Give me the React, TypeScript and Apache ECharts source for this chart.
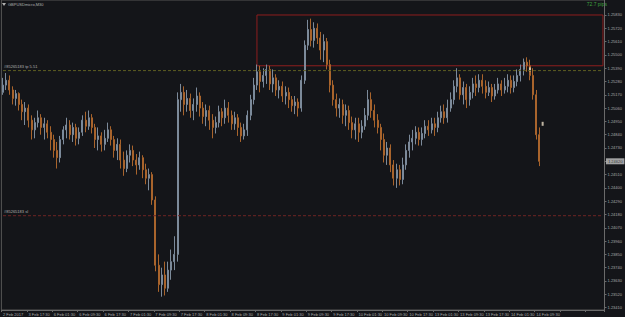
import React, { useEffect, useRef } from "react";
import * as echarts from "echarts";

const symbolTitle = "GBPUSDmicro,M30";
const pipsText = "72.7 pips";
const tpLabel = "#85265183 tp 5.51";
const slLabel = "#85265183 sl";

const xTickLabels = [
  "2 Feb 2017", "3 Feb 17:30", "6 Feb 01:30", "6 Feb 09:30", "6 Feb 17:30", "7 Feb 01:30",
  "7 Feb 09:30", "7 Feb 17:30", "8 Feb 01:30", "8 Feb 09:30", "8 Feb 17:30", "9 Feb 01:30",
  "9 Feb 09:30", "9 Feb 17:30", "10 Feb 01:30", "10 Feb 09:30", "10 Feb 17:30", "13 Feb 01:30",
  "13 Feb 09:30", "13 Feb 17:30", "14 Feb 01:30", "14 Feb 09:30",
];

const yTickValues = [
  1.2341, 1.2352, 1.2363, 1.2374, 1.2385, 1.2396, 1.2407, 1.2418, 1.2429, 1.244, 1.2451, 1.2462,
  1.2473, 1.2484, 1.2495, 1.2506, 1.2517, 1.2528, 1.2539, 1.255, 1.2561, 1.2572, 1.2583,
];

// [open, close, low, high]
const candles = [
  [1.2519, 1.2525, 1.2517, 1.2531], [1.2525, 1.2529, 1.2521, 1.2535], [1.2529, 1.2521, 1.2517, 1.2533],
  [1.2521, 1.2514, 1.2509, 1.2524], [1.2514, 1.2518, 1.2508, 1.2521], [1.2518, 1.2509, 1.2504, 1.2519],
  [1.2509, 1.2503, 1.2496, 1.2513], [1.2503, 1.2506, 1.2492, 1.2511], [1.2506, 1.2496, 1.249, 1.2509],
  [1.2496, 1.2488, 1.248, 1.25], [1.2488, 1.2494, 1.2481, 1.2498], [1.2494, 1.2498, 1.249, 1.2504],
  [1.2498, 1.249, 1.2484, 1.2501], [1.249, 1.2493, 1.248, 1.2498], [1.2493, 1.2486, 1.2481, 1.2496],
  [1.2486, 1.248, 1.2471, 1.2491], [1.248, 1.2471, 1.2465, 1.2484], [1.2471, 1.2465, 1.2456, 1.2478],
  [1.2465, 1.248, 1.2461, 1.2483], [1.248, 1.2488, 1.2476, 1.2491], [1.2488, 1.2492, 1.2481, 1.2498],
  [1.2492, 1.2484, 1.248, 1.2496], [1.2484, 1.249, 1.2478, 1.2494], [1.249, 1.2481, 1.2475, 1.2493],
  [1.2481, 1.2486, 1.2476, 1.249], [1.2486, 1.2496, 1.2483, 1.25], [1.2496, 1.2491, 1.2486, 1.2503],
  [1.2491, 1.2498, 1.2488, 1.2504], [1.2498, 1.249, 1.2485, 1.2501], [1.249, 1.248, 1.2473, 1.2493],
  [1.248, 1.2483, 1.2471, 1.249], [1.2483, 1.2476, 1.247, 1.2486], [1.2476, 1.2481, 1.2471, 1.2488],
  [1.2481, 1.2488, 1.2478, 1.2494], [1.2488, 1.248, 1.2475, 1.2491], [1.248, 1.2471, 1.2465, 1.2483],
  [1.2471, 1.2476, 1.2463, 1.2481], [1.2476, 1.2463, 1.2456, 1.248], [1.2463, 1.2456, 1.245, 1.247],
  [1.2456, 1.2467, 1.2453, 1.2471], [1.2467, 1.2471, 1.2461, 1.2476], [1.2471, 1.2463, 1.2458, 1.2475],
  [1.2463, 1.2459, 1.2451, 1.2468], [1.2459, 1.2465, 1.2455, 1.247], [1.2465, 1.2455, 1.2448, 1.2467],
  [1.2455, 1.2448, 1.2443, 1.246], [1.2448, 1.2451, 1.2438, 1.2456], [1.2451, 1.243, 1.2426, 1.2453],
  [1.243, 1.2376, 1.2371, 1.2433], [1.2376, 1.236, 1.2354, 1.2385], [1.236, 1.2368, 1.235, 1.2374],
  [1.2368, 1.2357, 1.2351, 1.2379], [1.2357, 1.2372, 1.2354, 1.2379], [1.2372, 1.2379, 1.2364, 1.2389],
  [1.2379, 1.2385, 1.2372, 1.24], [1.2385, 1.2513, 1.2379, 1.2519], [1.2513, 1.2519, 1.2503, 1.2526],
  [1.2519, 1.2509, 1.25, 1.2524], [1.2509, 1.2514, 1.2503, 1.2521], [1.2514, 1.2504, 1.2498, 1.2518],
  [1.2504, 1.2509, 1.2496, 1.2514], [1.2509, 1.2516, 1.2503, 1.2523], [1.2516, 1.2506, 1.2499, 1.2519],
  [1.2506, 1.2499, 1.2493, 1.2511], [1.2499, 1.2504, 1.2491, 1.2509], [1.2504, 1.2496, 1.2488, 1.2508],
  [1.2496, 1.249, 1.2481, 1.2501], [1.249, 1.2494, 1.2485, 1.2499], [1.2494, 1.2503, 1.249, 1.2508],
  [1.2503, 1.2498, 1.2491, 1.2506], [1.2498, 1.2506, 1.2493, 1.2513], [1.2506, 1.25, 1.2494, 1.2511],
  [1.25, 1.2493, 1.2488, 1.2504], [1.2493, 1.2498, 1.2488, 1.2503], [1.2498, 1.249, 1.2483, 1.2501],
  [1.249, 1.2483, 1.2478, 1.2494], [1.2483, 1.2488, 1.248, 1.2493], [1.2488, 1.25, 1.2483, 1.2504],
  [1.25, 1.2513, 1.2496, 1.2517], [1.2513, 1.2525, 1.2509, 1.2531], [1.2525, 1.2536, 1.2521, 1.2542],
  [1.2536, 1.2528, 1.2519, 1.2541], [1.2528, 1.2533, 1.2523, 1.2539], [1.2533, 1.2538, 1.2526, 1.2542],
  [1.2538, 1.2526, 1.2521, 1.2541], [1.2526, 1.2531, 1.2519, 1.2538], [1.2531, 1.2521, 1.2516, 1.2534],
  [1.2521, 1.2524, 1.2514, 1.2529], [1.2524, 1.2516, 1.2511, 1.2528], [1.2516, 1.2519, 1.2509, 1.2524],
  [1.2519, 1.2513, 1.2506, 1.2523], [1.2513, 1.2508, 1.2503, 1.2516], [1.2508, 1.2511, 1.2501, 1.2516],
  [1.2511, 1.2506, 1.2499, 1.2514], [1.2506, 1.2529, 1.2503, 1.2533], [1.2529, 1.2558, 1.2526, 1.2562],
  [1.2558, 1.2571, 1.2554, 1.2579], [1.2571, 1.2562, 1.2557, 1.258], [1.2562, 1.2572, 1.2556, 1.2577],
  [1.2572, 1.2564, 1.2559, 1.2576], [1.2564, 1.2554, 1.2546, 1.2569], [1.2554, 1.2561, 1.2544, 1.2567],
  [1.2561, 1.2542, 1.2538, 1.2564], [1.2542, 1.2525, 1.2519, 1.2546], [1.2525, 1.2513, 1.2508, 1.2529],
  [1.2513, 1.2506, 1.2499, 1.2518], [1.2506, 1.2509, 1.2498, 1.2514], [1.2509, 1.25, 1.2493, 1.2513],
  [1.25, 1.2504, 1.2491, 1.2509], [1.2504, 1.2494, 1.2488, 1.2508], [1.2494, 1.2488, 1.2481, 1.2499],
  [1.2488, 1.2493, 1.248, 1.2498], [1.2493, 1.2486, 1.2478, 1.2498], [1.2486, 1.2491, 1.2481, 1.2496],
  [1.2491, 1.25, 1.2488, 1.2506], [1.25, 1.2513, 1.2496, 1.2521], [1.2513, 1.2504, 1.2498, 1.2519],
  [1.2504, 1.2496, 1.249, 1.2509], [1.2496, 1.249, 1.2485, 1.2501], [1.249, 1.248, 1.2471, 1.2493],
  [1.248, 1.2467, 1.2461, 1.2485], [1.2467, 1.2473, 1.2459, 1.2478], [1.2473, 1.2459, 1.2453, 1.2476],
  [1.2459, 1.2448, 1.2442, 1.2463], [1.2448, 1.2455, 1.244, 1.246], [1.2455, 1.2447, 1.2442, 1.2459],
  [1.2447, 1.2459, 1.2443, 1.2465], [1.2459, 1.2471, 1.2455, 1.2476], [1.2471, 1.2478, 1.2465, 1.2484],
  [1.2478, 1.2481, 1.2471, 1.2488], [1.2481, 1.2486, 1.2476, 1.2491], [1.2486, 1.248, 1.2475, 1.249],
  [1.248, 1.2485, 1.2475, 1.249], [1.2485, 1.2491, 1.2481, 1.2496], [1.2491, 1.2488, 1.2483, 1.2496],
  [1.2488, 1.2493, 1.2485, 1.2498], [1.2493, 1.249, 1.2483, 1.2498], [1.249, 1.2498, 1.2486, 1.2503],
  [1.2498, 1.2503, 1.2494, 1.2508], [1.2503, 1.2498, 1.2493, 1.2509], [1.2498, 1.2506, 1.2494, 1.2513],
  [1.2506, 1.2513, 1.2503, 1.2519], [1.2513, 1.2524, 1.2509, 1.2529], [1.2524, 1.2531, 1.2519, 1.2539],
  [1.2531, 1.2517, 1.2513, 1.2534], [1.2517, 1.2523, 1.2509, 1.2528], [1.2523, 1.2513, 1.2506, 1.2526],
  [1.2513, 1.2519, 1.2508, 1.2524], [1.2519, 1.2526, 1.2514, 1.2531], [1.2526, 1.2523, 1.2516, 1.2533],
  [1.2523, 1.2529, 1.2519, 1.2534], [1.2529, 1.2524, 1.2518, 1.2534], [1.2524, 1.2519, 1.2514, 1.2529],
  [1.2519, 1.2523, 1.2516, 1.2528], [1.2523, 1.2516, 1.2511, 1.2526], [1.2516, 1.2521, 1.2513, 1.2526],
  [1.2521, 1.2526, 1.2518, 1.2531], [1.2526, 1.2521, 1.2516, 1.2529], [1.2521, 1.2524, 1.2518, 1.2531],
  [1.2524, 1.2529, 1.2519, 1.2534], [1.2529, 1.2523, 1.2518, 1.2533], [1.2523, 1.2528, 1.2519, 1.2533],
  [1.2528, 1.2533, 1.2524, 1.2538], [1.2533, 1.2538, 1.2528, 1.2542], [1.2538, 1.2544, 1.2533, 1.2547],
  [1.2544, 1.2541, 1.2536, 1.2548], [1.2541, 1.2533, 1.2529, 1.2546], [1.2533, 1.2517, 1.2513, 1.2539],
  [1.2517, 1.2484, 1.248, 1.2521], [1.2484, 1.2462, 1.2458, 1.249],
];

const TOTAL_SLOTS = 190;
const tpPrice = 1.2537;
const slPrice = 1.2417;
const zoneTop = 1.2583;
const zoneBottom = 1.2541;
const zoneStartIndex = 80;
const tradeMarks = [
  [166, 1.2538],
  [170, 1.2493],
];

const FONT = "Liberation Sans";

export default function App() {
  const ref = useRef<HTMLDivElement>(null);
  useEffect(() => {
    document.body.style.margin = "0";
    const chart = echarts.init(ref.current!, null, { renderer: "svg" });
    const categories = Array.from({ length: TOTAL_SLOTS }, (_, i) => String(i));
    const lastIdx = TOTAL_SLOTS - 1;
    const lastClose = candles[candles.length - 1][1];
    const every8 = (i: number) => i % 8 === 0;
    const levelSeries = (price: number, color: string, text: string) => ({
      type: "line",
      data: [
        {
          value: [categories[0], price],
          label: {
            show: true,
            position: [1, -6],
            align: "left",
            formatter: text,
            fontSize: 4,
            color: "#b0b0b0",
            fontFamily: FONT,
          },
        },
        { value: [categories[lastIdx], price], label: { show: false } },
      ],
      symbol: "circle",
      symbolSize: 0,
      showSymbol: true,
      silent: true,
      clip: false,
      lineStyle: { color, type: [3, 2], width: 1 },
    });
    const option: any = {
      animation: false,
      backgroundColor: "#141519",
      textStyle: { fontFamily: FONT },
      grid: {
        left: 1,
        right: 18,
        top: 0,
        bottom: 7,
        show: true,
        borderColor: "#555",
        borderWidth: 1,
      },
      xAxis: {
        type: "category",
        data: categories,
        boundaryGap: true,
        axisLine: { lineStyle: { color: "#6a6a6a" } },
        axisTick: { show: true, interval: every8, length: 2, lineStyle: { color: "#6a6a6a" } },
        axisLabel: {
          interval: every8,
          formatter: (_v: string, i: number) => (i % 8 === 0 && xTickLabels[i / 8]) || "",
          align: "left",
          fontSize: 4,
          color: "#a8a8a8",
          margin: 2,
          fontFamily: FONT,
        },
        splitLine: { show: false },
      },
      yAxis: {
        type: "value",
        position: "right",
        min: 1.2339,
        max: 1.25954,
        axisLine: { show: true, lineStyle: { color: "#6a6a6a" } },
        axisTick: { show: true, customValues: yTickValues, length: 2, lineStyle: { color: "#6a6a6a" } },
        axisLabel: {
          customValues: yTickValues,
          formatter: (v: number) => v.toFixed(5),
          fontSize: 4,
          color: "#a8a8a8",
          margin: 3,
          fontFamily: FONT,
        },
        splitLine: { show: false },
      },
      series: [
        {
          type: "candlestick",
          data: candles,
          barWidth: 1.5,
          itemStyle: {
            color: "#7c8a9a",
            color0: "#a9642c",
            borderColor: "#7c8a9a",
            borderColor0: "#a9642c",
            borderWidth: 1,
          },
          markArea: {
            silent: true,
            itemStyle: { color: "rgba(0,0,0,0)", borderColor: "#8e1e1e", borderWidth: 1 },
            data: [
              [
                { xAxis: categories[zoneStartIndex], yAxis: zoneTop },
                { xAxis: categories[lastIdx], yAxis: zoneBottom },
              ],
            ],
          },
        },
        levelSeries(tpPrice, "#5e5e22", tpLabel),
        levelSeries(slPrice, "#6e2424", slLabel),
        {
          type: "scatter",
          data: tradeMarks,
          symbol: "rect",
          symbolSize: [2, 4],
          itemStyle: { color: "#eadcc4" },
          silent: true,
        },
        {
          type: "scatter",
          data: [[categories[lastIdx], lastClose]],
          symbolSize: 0,
          silent: true,
          clip: false,
          z: 10,
          label: {
            show: true,
            position: "right",
            distance: 3,
            formatter: () => lastClose.toFixed(5),
            fontSize: 4,
            color: "#000",
            backgroundColor: "#c4c4c4",
            padding: [1, 2],
            fontFamily: FONT,
          },
        },
      ],
      graphic: [
        { type: "polygon", shape: { points: [[2, 3], [6, 3], [4, 6]] }, style: { fill: "#b0b0b0" } },
        {
          type: "text",
          left: 8,
          top: 2,
          style: { text: symbolTitle, fill: "#b0b0b0", fontSize: 4, fontFamily: FONT },
        },
        {
          type: "text",
          right: 18,
          top: 1,
          style: { text: pipsText, fill: "#3fa03f", fontSize: 5, fontFamily: FONT },
        },
      ],
    };
    chart.setOption(option);
    return () => chart.dispose();
  }, []);
  return <div ref={ref} style={{ width: 625, height: 317 }} />;
}
